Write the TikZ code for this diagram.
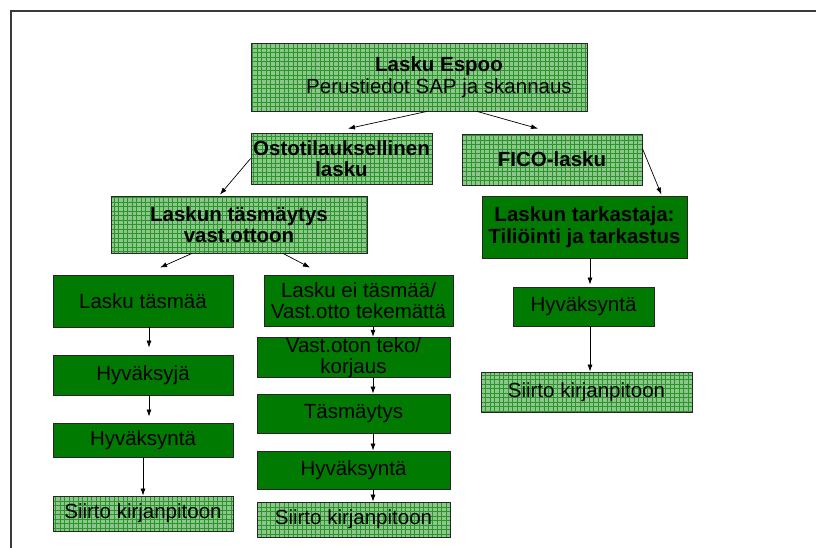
\documentclass[tikz,border=0pt]{standalone}
\usepackage{fontspec}
\setmainfont{Liberation Sans}
\usetikzlibrary{arrows.meta}

\definecolor{gridfill}{HTML}{8CC68C}
\definecolor{gridline}{HTML}{2A962A}
\definecolor{solidgreen}{HTML}{007A00}
\definecolor{framegray}{HTML}{3A3A3A}

\tikzset{
  box/.style={draw=black!85, line width=0.8pt, align=center, inner sep=0pt,
    font=\fontsize{20.5}{21.5}\selectfont, text=black},
  gridbox/.style={box, fill=gridfill,
    path picture={\draw[gridline, line width=0.5pt, step=4.5pt]
      (path picture bounding box.south west) grid (path picture bounding box.north east);}},
  solidbox/.style={box, fill=solidgreen},
  arr/.style={-{Latex[length=7pt,width=5pt]}, line width=0.7pt, black}
}

\begin{document}
\begin{tikzpicture}[x=1pt, y=-1pt]
  \useasboundingbox (0,0) rectangle (816,548);

  % page frame (top and left edge)
  \draw[framegray, line width=1.8pt] (816,11) -- (11,11) -- (11,548);

  % top level (text sits a little right of centre)
  \node[gridbox, minimum width=336pt, minimum height=68pt] (espoo) at (419,77)
    {\hspace*{40pt}\textbf{Lasku Espoo}\\\hspace*{40pt}Perustiedot SAP ja skannaus};

  % second level
  \node[gridbox, minimum width=181pt, minimum height=51pt] (osto) at (341.5,158.5)
    {\textbf{Ostotilauksellinen}\\\textbf{lasku}};
  \node[gridbox, minimum width=180pt, minimum height=51pt] (fico) at (552,159.5)
    {\textbf{FICO-lasku}};

  % third level
  \node[gridbox, minimum width=256pt, minimum height=57pt] (tasm) at (239,224.5)
    {\textbf{Laskun täsmäytys}\\\textbf{vast.ottoon}};
  \node[solidbox, minimum width=205pt, minimum height=62pt] (tark) at (584.5,227)
    {\textbf{Laskun tarkastaja:}\\\textbf{Tiliöinti ja tarkastus}};

  % left column
  \node[solidbox, minimum width=180pt, minimum height=52pt] (l1) at (143,301) {Lasku täsmää};
  \node[solidbox, minimum width=180pt, minimum height=40pt] (l2) at (143,375) {Hyväksyjä};
  \node[solidbox, minimum width=180pt, minimum height=34pt] (l3) at (143,440) {Hyväksyntä};
  \node[gridbox,  minimum width=180pt, minimum height=35pt] (l4) at (143,513.5) {Siirto kirjanpitoon};

  % middle column
  \node[solidbox, minimum width=189pt, minimum height=51pt] (m1) at (358.5,300.5)
    {Lasku ei täsmää/\\Vast.otto tekemättä};
  \node[solidbox, minimum width=193pt, minimum height=39pt] (m2) at (353.5,357.5)
    {Vast.oton teko/\\korjaus};
  \node[solidbox, minimum width=193pt, minimum height=39pt] (m3) at (353.5,413.5) {Täsmäytys};
  \node[solidbox, minimum width=193pt, minimum height=38pt] (m4) at (353.5,470) {Hyväksyntä};
  \node[gridbox,  minimum width=193pt, minimum height=35pt] (m5) at (353.5,519.5) {Siirto kirjanpitoon};

  % right column
  \node[solidbox, minimum width=141pt, minimum height=39pt] (r1) at (583.5,306.5) {Hyväksyntä};
  \node[gridbox,  minimum width=211pt, minimum height=40pt] (r2) at (586.5,392) {Siirto kirjanpitoon};

  % connectors
  \draw[arr] ([xshift=8pt]espoo.south) -- ([xshift=6.5pt,yshift=4pt]osto.north);
  \draw[arr] ([xshift=58pt]espoo.south) -- ([xshift=-14pt,yshift=5pt]fico.north);
  \draw[arr] (osto.west) -- ([xshift=-19pt,yshift=1pt]tasm.north);
  \draw[arr] ([yshift=11pt]fico.east) -- ([xshift=-26pt,yshift=1pt]tark.north east);
  \draw[arr] ([xshift=-47pt]tasm.south) -- ([xshift=17pt,yshift=7pt]l1.north);
  \draw[arr] ([xshift=44pt]tasm.south) -- ([xshift=-48.5pt,yshift=7pt]m1.north);
  \draw[arr] ([xshift=5.5pt]tark.south) -- ([xshift=6.5pt,yshift=2pt]r1.north);
  \draw[arr] ([xshift=6.5pt]r1.south) -- ([xshift=3.5pt]r2.north);

  \draw[arr] ([xshift=6pt]l1.south) -- ([xshift=6pt,yshift=7pt]l2.north);
  \draw[arr] ([xshift=6pt]l2.south) -- ([xshift=6pt,yshift=6pt]l3.north);
  \draw[arr] (l3.south) -- (l4.north);

  \draw[arr] ([xshift=14.5pt]m1.south) -- ([xshift=19.5pt]m2.north);
  \draw[arr] ([xshift=19.5pt]m2.south) -- ([xshift=19.5pt]m3.north);
  \draw[arr] ([xshift=19.5pt]m3.south) -- ([xshift=19.5pt]m4.north);
  \draw[arr] ([xshift=19.5pt]m4.south) -- ([xshift=19.5pt]m5.north);
\end{tikzpicture}
\end{document}
